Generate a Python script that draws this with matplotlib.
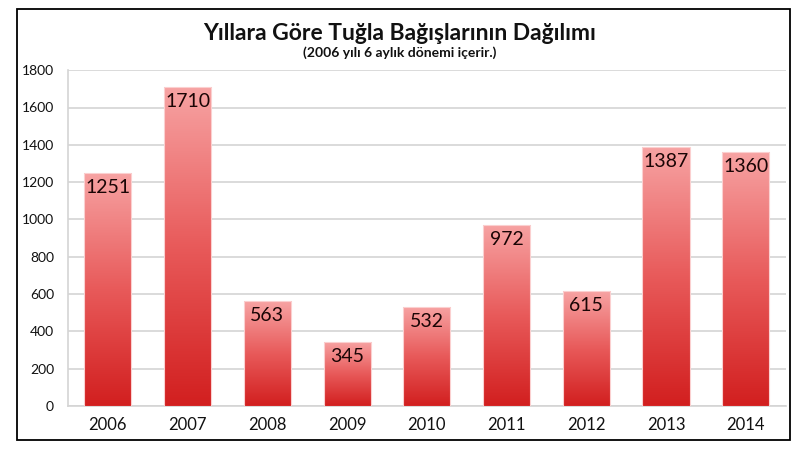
import matplotlib
matplotlib.use('Agg')
import matplotlib.pyplot as plt
import matplotlib.patches as mpatches
from matplotlib.colors import LinearSegmentedColormap
import numpy as np

plt.rcParams['font.family'] = ['Lato', 'DejaVu Sans']

years = ['2006', '2007', '2008', '2009', '2010', '2011', '2012', '2013', '2014']
donations = [1251, 1710, 563, 345, 532, 972, 615, 1387, 1360]
yticks = [0, 200, 400, 600, 800, 1000, 1200, 1400, 1600, 1800]

title = 'Yıllara Göre Tuğla Bağışlarının Dağılımı'
subtitle = '(2006 yılı 6 aylık dönemi içerir.)'

grad = LinearSegmentedColormap.from_list('redgrad', ['#d21f1f', '#e85a5a', '#f7a3a3'])

fig = plt.figure(figsize=(8, 4.5), dpi=100)
ax = fig.add_axes([0.085, 0.098, 0.897, 0.746])

x = np.arange(len(years))
width = 0.59
bars = ax.bar(x, donations, width=width, color='none', edgecolor='none', zorder=3)

# vertical gradient per bar, clipped to the bar shape
g = np.linspace(0, 1, 256).reshape(-1, 1)
for bar, val in zip(bars, donations):
    x0 = bar.get_x()
    x1 = x0 + bar.get_width()
    im = ax.imshow(g, cmap=grad, origin='lower', aspect='auto',
                   extent=(x0, x1, 0, val), zorder=3)
    im.set_clip_path(bar)
    edge = mpatches.Rectangle((x0, 0), bar.get_width(), val, fill=False,
                              edgecolor='#fbd0d0', linewidth=0.8, zorder=4)
    ax.add_patch(edge)
    ax.text(bar.get_x() + bar.get_width() / 2, val - 78, str(val),
            ha='center', va='center', fontsize=14, color='#1a0505', zorder=5)

ax.set_xlim(-0.5, len(years) - 0.5)
ax.set_ylim(0, 1800)
ax.set_yticks(yticks)
ax.set_yticklabels([str(t) for t in yticks], fontsize=10, color='#111111')
ax.set_xticks(x)
ax.set_xticklabels(years, fontsize=12, color='#111111')
ax.tick_params(axis='both', length=0)
ax.tick_params(axis='y', pad=10)
ax.tick_params(axis='x', pad=8)
ax.grid(axis='y', color='#d4d4d4', linewidth=1.2, zorder=0)
ax.set_axisbelow(True)
for s in ['top', 'right']:
    ax.spines[s].set_visible(False)
ax.spines['left'].set_color('#d4d4d4')
ax.spines['bottom'].set_color('#d4d4d4')
ax.spines['left'].set_linewidth(1.2)
ax.spines['bottom'].set_linewidth(1.2)

fig.text(0.5, 0.926, title, ha='center', va='center', fontsize=16.5,
         fontweight='bold', color='#111111')
fig.text(0.5, 0.882, subtitle, ha='center', va='center', fontsize=10,
         fontweight='bold', color='#111111')

frame = mpatches.Rectangle((17 / 800, 1 - 440 / 450), 773 / 800, 431 / 450,
                           transform=fig.transFigure, fill=False,
                           edgecolor='black', linewidth=1.3)
fig.patches.append(frame)

fig.savefig('out.png', dpi=100)
